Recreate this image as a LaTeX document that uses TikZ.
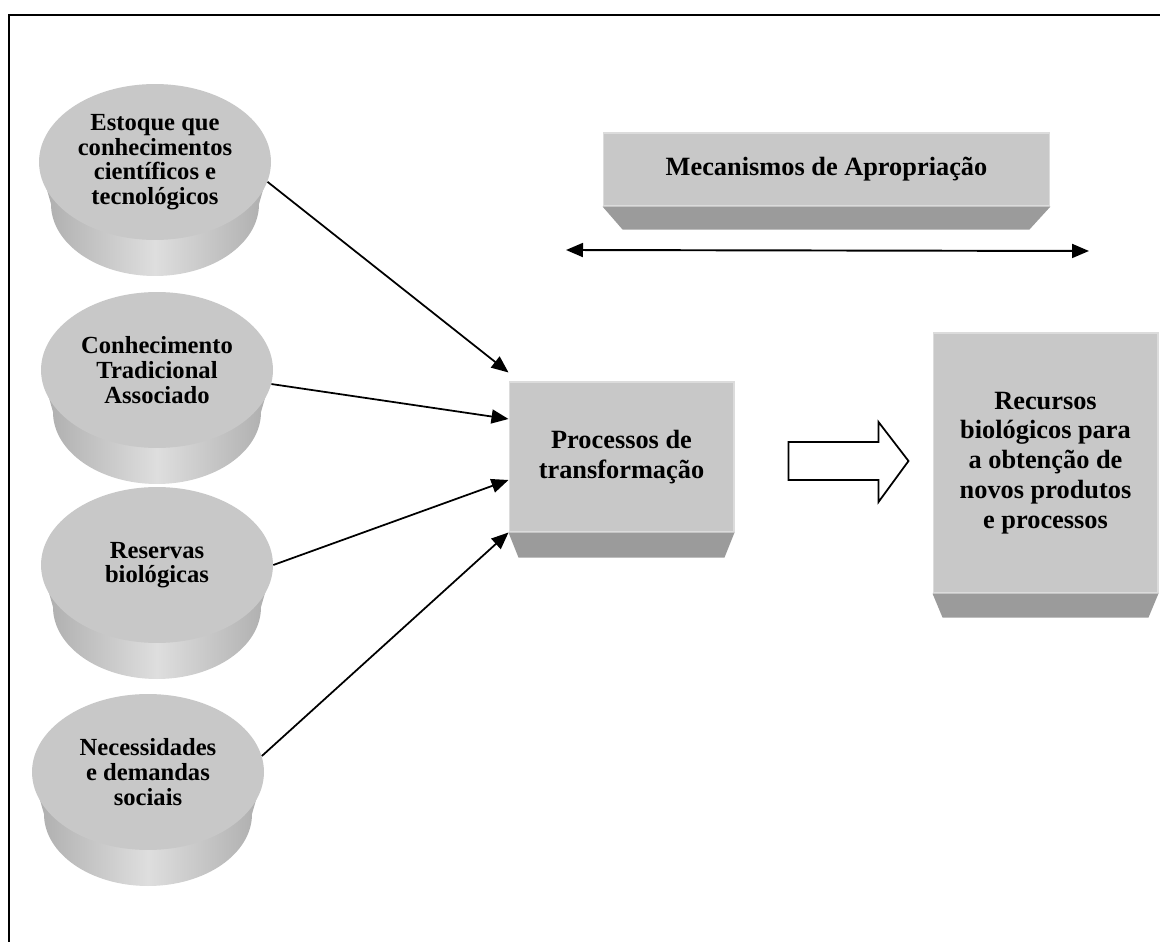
\documentclass[tikz,border=0pt]{standalone}
\usepackage{fontspec}
\setmainfont{Liberation Serif}
\usepackage{xcolor}
\usetikzlibrary{
    arrows.meta,
    shapes.geometric,
    calc,
    positioning
}
\definecolor{facegray}{RGB}{200,200,200}
\definecolor{rimgray}{RGB}{220,220,220}
\definecolor{basegray}{RGB}{155,155,155}
\definecolor{sidedark}{RGB}{172,172,172}
\definecolor{sidelight}{RGB}{222,222,222}

\begin{document}
\begin{tikzpicture}[x=0.02cm, y=-0.02cm,
    >={Triangle[length=0.34cm, width=0.28cm]},
    cylface/.style={ellipse, fill=facegray, minimum width=4.64cm, minimum height=3.12cm,
        inner sep=0pt, align=center, font=\bfseries\fontsize{14}{14}\selectfont},
    cylside/.style={left color=sidedark, right color=sidedark, middle color=sidelight},
    box/.style={rectangle, fill=facegray, draw=rimgray, line width=0.6pt, inner sep=0pt,
        align=center, font=\bfseries\fontsize{15}{17}\selectfont},
    boxbase/.style={fill=basegray},
    link/.style={->, line width=1pt}]
                        \useasboundingbox (0,0) rectangle (1160,942);
                        \draw[line width=1.1pt] (9,942) -- (9,15) -- (1160,15);

                        % sides of the four cylinders
                        \foreach \cx/\cy in {155/162, 157/370, 157/565, 148/772}
                            \shade[cylside] (\cx-116,\cy) -- (\cx-104,\cy+42)
                                arc[start angle=180, end angle=0, x radius=104, y radius=72]
                                -- (\cx+116,\cy) -- cycle;

                        \node[cylface] (c1) at (155, 162) {Estoque que\\conhecimentos\\científicos e\\tecnológicos};
                        \node[cylface] (c2) at (157, 370) {Conhecimento\\Tradicional\\Associado};
                        \node[cylface] (c3) at (157, 565) {Reservas\\biológicas};
                        \node[cylface] (c4) at (148, 772) {Necessidades\\e demandas\\sociais};

                        \node[box, minimum width=8.94cm, minimum height=1.46cm] (mec) at (826.5, 169.5) {Mecanismos de Apropriação};
                        \node[box, minimum width=4.5cm, minimum height=3cm] (proc) at (621.5, 457) {Processos de\\transformação};
                        \node[box, minimum width=4.5cm, minimum height=5.2cm] (rec) at (1045.5, 463) {Recursos\\biológicos para\\a obtenção de\\novos produtos\\e processos};

                        \fill[boxbase] (mec.south west) -- (mec.south east) -- ($(mec.south east)+(-21,23)$) -- ($(mec.south west)+(20,23)$) -- cycle;
                        \fill[boxbase] (proc.south west) -- (proc.south east) -- ($(proc.south east)+(-10,25)$) -- ($(proc.south west)+(10,25)$) -- cycle;
                        \fill[boxbase] (rec.south west) -- (rec.south east) -- ($(rec.south east)+(-10,24)$) -- ($(rec.south west)+(10,24)$) -- cycle;

                        \coordinate (apw) at (566, 250);
                        \coordinate (ape) at (1089, 251);
                        \draw[<->, line width=1.1pt] (apw) -- (ape);

                        \draw[link] (c1.-10) -- ($(proc.north west)+(0,-9)$);
                        \draw[link] (c2.-7) -- ($(proc.west)+(0,-38)$);
                        \draw[link] (c3.east) -- ($(proc.west)+(0,23)$);
                        \draw[link] (c4.8) -- (proc.south west);

                        % hollow arrow towards the resources
                        \draw[line width=1pt, fill=white] ($(proc.east)+(54,-15)$) -- ++(90,0) -- ++(0,-20)
                            -- ++(30,39) -- ++(-30,41) -- ++(0,-22) -- ++(-90,0) -- cycle;
                    \end{tikzpicture}
\end{document}
